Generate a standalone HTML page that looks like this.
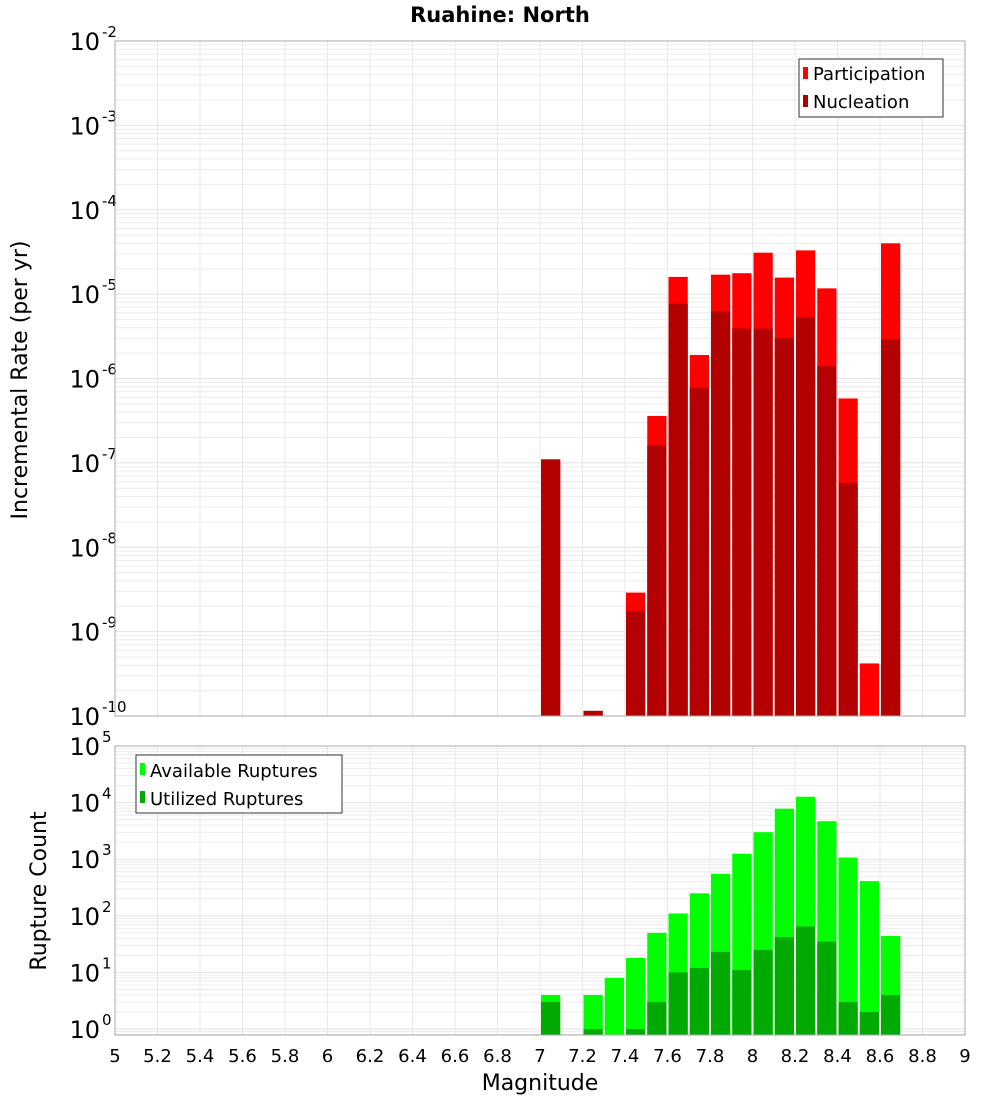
<!DOCTYPE html>
<html><head><meta charset="utf-8"><style>
body{margin:0;background:#fff;width:1000px;height:1100px;overflow:hidden}
svg{font-family:"DejaVu Sans","Liberation Sans",sans-serif}
</style></head><body>
<svg id="chart" width="1000" height="1100" xmlns="http://www.w3.org/2000/svg">
<text x="500" y="22" text-anchor="middle" font-size="21" font-weight="bold">Ruahine: North</text>
<g id="top"></g><g id="bot"></g>
<text x="540" y="1090" text-anchor="middle" font-size="22">Magnitude</text>
<text transform="translate(27,380) rotate(-90)" text-anchor="middle" font-size="22">Incremental Rate (per yr)</text>
<text transform="translate(46,891) rotate(-90)" text-anchor="middle" font-size="22">Rupture Count</text>
</svg>
<script>
const mags=[7.0,7.2,7.4,7.5,7.6,7.7,7.8,7.9,8.0,8.1,8.2,8.3,8.4,8.5,8.6];
const participation=[1.1e-7,1.15e-10,2.9e-9,3.6e-7,1.6e-5,1.9e-6,1.7e-5,1.77e-5,3.1e-5,1.57e-5,3.3e-5,1.17e-5,5.8e-7,4.2e-10,4.0e-5];
const nucleation=[1.1e-7,1.15e-10,1.75e-9,1.6e-7,7.7e-6,7.7e-7,6.3e-6,3.9e-6,3.9e-6,3.0e-6,5.3e-6,1.4e-6,5.8e-8,0,2.9e-6];
const cMags=[7.0,7.2,7.3,7.4,7.5,7.6,7.7,7.8,7.9,8.0,8.1,8.2,8.3,8.4,8.5,8.6];
const available=[4,4,8,18,50,110,250,550,1250,3000,7800,12700,4700,1070,410,44];
const utilized=[3,1,0,1,3,10,12,23,11,25,42,65,35,3,2,4];
const xTicks=[5,5.2,5.4,5.6,5.8,6,6.2,6.4,6.6,6.8,7,7.2,7.4,7.6,7.8,8,8.2,8.4,8.6,8.8,9];
const topExps=[-2,-3,-4,-5,-6,-7,-8,-9,-10];
const botExps=[5,4,3,2,1,0];
const NS="http://www.w3.org/2000/svg";
const X0=115,X1=965;
const xs=m=>X0+(m-5)/4*(X1-X0);
const yTop=v=>41+(-2-Math.log10(v))*84.375;
const yBot=v=>1029-56.6*Math.log10(v);
function mk(p,t,a){const e=document.createElementNS(NS,t);for(const k in a)e.setAttribute(k,a[k]);p.appendChild(e);return e;}
function panel(g,top,bot,yf,lo,hi,exps,name){
  const grid=mk(g,'g',{});
  
  
  for(let d=lo;d<hi;d++)for(let k=1;k<10;k++){const y=yf(k*Math.pow(10,d));if(y<top||y>bot)continue;
    mk(grid,'line',{x1:X0,x2:X1,y1:y,y2:y,stroke:k==1?'#e2e2e2':'#ececec','stroke-width':1});}
  xTicks.forEach(t=>{mk(grid,'line',{x1:xs(t),x2:xs(t),y1:top,y2:bot,stroke:'#e8e8e8','stroke-width':1});});
  exps.forEach(e=>{const y=yf(Math.pow(10,e));
    const t=mk(g,'text',{x:100,y:y+9,'text-anchor':'end','font-size':24});t.textContent='10';
    
    
    const s=mk(g,'text',{x:102,y:y-4,'font-size':15});s.textContent=String(e);
    
    });
}
function bar(g,m,v,yf,bot,fill,name){if(!v)return;const y=yf(v);const x=xs(m)+1;
  const r=mk(g,'rect',{x:x,y:y,width:xs(m+0.1)-xs(m)-2,height:bot-y,fill:fill,stroke:'#ff9a9a','stroke-width':0});
  
  }
const gt=document.getElementById('top');
panel(gt,41,716,yTop,-10,-2,topExps,'top');
mags.forEach((m,i)=>bar(gt,m,participation[i],yTop,716,'#ff0000','participation-bar'));
mags.forEach((m,i)=>bar(gt,m,nucleation[i],yTop,716,'#b30000','nucleation-bar'));
mk(gt,'rect',{x:X0,y:41,width:X1-X0,height:675,fill:'none',stroke:'#aaa'});
const lt=mk(gt,'g',{});


mk(lt,'rect',{x:799,y:59,width:144,height:58,fill:'#fff',stroke:'#333'});
mk(lt,'rect',{x:803,y:67,width:5,height:12,fill:'#ff0000'});
mk(lt,'rect',{x:803,y:95,width:5,height:12,fill:'#b30000'});
mk(lt,'text',{x:813,y:80,'font-size':18}).textContent='Participation';
mk(lt,'text',{x:813,y:108,'font-size':18}).textContent='Nucleation';
const gb=document.getElementById('bot');
panel(gb,746,1035,yBot,-1,5,botExps,'bottom');
cMags.forEach((m,i)=>bar(gb,m,available[i],yBot,1035,'#00ff00','available-bar'));
cMags.forEach((m,i)=>bar(gb,m,utilized[i],yBot,1035,'#00aa00','utilized-bar'));
mk(gb,'rect',{x:X0,y:746,width:X1-X0,height:289,fill:'none',stroke:'#aaa'});
const lb=mk(gb,'g',{});


mk(lb,'rect',{x:136,y:755,width:206,height:58,fill:'#fff',stroke:'#333'});
mk(lb,'rect',{x:140,y:763,width:5,height:12,fill:'#00ff00'});
mk(lb,'rect',{x:140,y:791,width:5,height:12,fill:'#00aa00'});
mk(lb,'text',{x:150,y:777,'font-size':18}).textContent='Available Ruptures';
mk(lb,'text',{x:150,y:805,'font-size':18}).textContent='Utilized Ruptures';
xTicks.forEach(t=>{const e=mk(gb,'text',{x:xs(t),y:1062,'text-anchor':'middle','font-size':18});e.textContent=String(t);
  
  });
</script>
</body></html>
